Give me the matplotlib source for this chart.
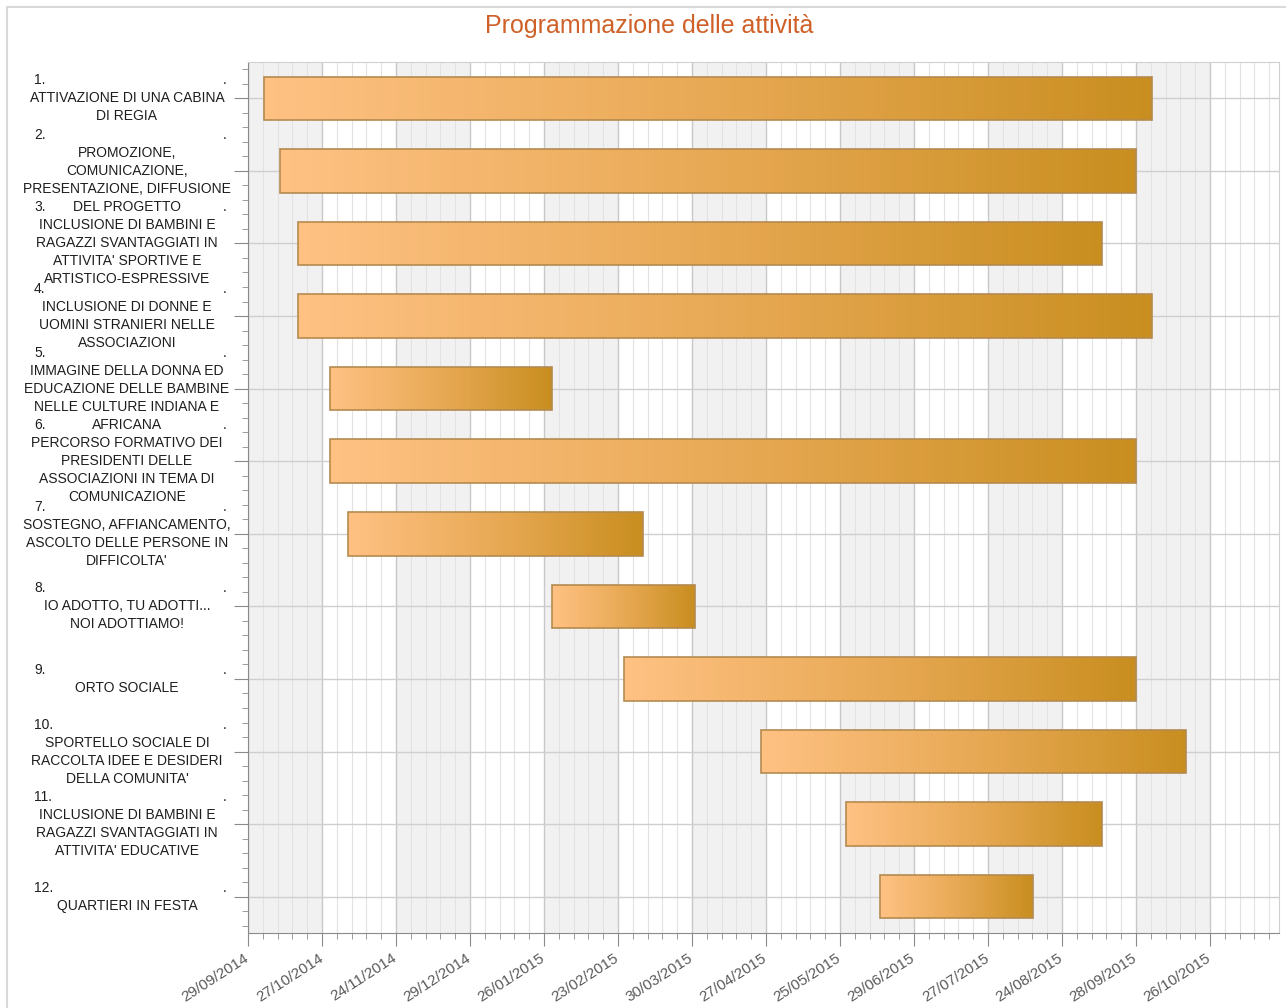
import matplotlib

matplotlib.use("Agg")
import matplotlib.dates as mdates
import matplotlib.pyplot as plt
import matplotlib.transforms as mtransforms
import numpy as np
import pandas as pd
from matplotlib.colors import LinearSegmentedColormap
from matplotlib.patches import Rectangle

plt.rcParams["font.family"] = ["Liberation Sans", "DejaVu Sans"]

title = "Programmazione delle attività"

tick_labels = [
    "29/09/2014", "27/10/2014", "24/11/2014", "29/12/2014", "26/01/2015",
    "23/02/2015", "30/03/2015", "27/04/2015", "25/05/2015", "29/06/2015",
    "27/07/2015", "24/08/2015", "28/09/2015", "26/10/2015",
]
axis_end = "23/11/2015"

task_lines = [
    ["ATTIVAZIONE DI UNA CABINA", "DI REGIA"],
    ["PROMOZIONE,", "COMUNICAZIONE,", "PRESENTAZIONE, DIFFUSIONE", "DEL PROGETTO"],
    ["INCLUSIONE DI BAMBINI E", "RAGAZZI SVANTAGGIATI IN", "ATTIVITA' SPORTIVE E",
     "ARTISTICO-ESPRESSIVE"],
    ["INCLUSIONE DI DONNE E", "UOMINI STRANIERI NELLE", "ASSOCIAZIONI"],
    ["IMMAGINE DELLA DONNA ED", "EDUCAZIONE DELLE BAMBINE", "NELLE CULTURE INDIANA E",
     "AFRICANA"],
    ["PERCORSO FORMATIVO DEI", "PRESIDENTI DELLE", "ASSOCIAZIONI IN TEMA DI",
     "COMUNICAZIONE"],
    ["SOSTEGNO, AFFIANCAMENTO,", "ASCOLTO DELLE PERSONE IN", "DIFFICOLTA'"],
    ["IO ADOTTO, TU ADOTTI...", "NOI ADOTTIAMO!"],
    ["ORTO SOCIALE"],
    ["SPORTELLO SOCIALE DI", "RACCOLTA IDEE E DESIDERI", "DELLA COMUNITA'"],
    ["INCLUSIONE DI BAMBINI E", "RAGAZZI SVANTAGGIATI IN", "ATTIVITA' EDUCATIVE"],
    ["QUARTIERI IN FESTA"],
]

start_dates = [
    "05/10/2014", "11/10/2014", "18/10/2014", "18/10/2014", "30/10/2014", "30/10/2014",
    "06/11/2014", "29/01/2015", "26/02/2015", "25/04/2015", "28/05/2015", "13/06/2015",
]
end_dates = [
    "04/10/2015", "28/09/2015", "12/09/2015", "04/10/2015", "29/01/2015", "28/09/2015",
    "07/03/2015", "31/03/2015", "28/09/2015", "17/10/2015", "12/09/2015", "13/08/2015",
]


def to_num(dates):
    return mdates.date2num(pd.to_datetime(dates, format="%d/%m/%Y"))


tick_x = to_num(tick_labels)
starts = to_num(start_dates)
ends = to_num(end_dates)

# every labelled month gets the same width on the axis (28 or 35 days alike)
months = np.arange(len(tick_x), dtype=float)
xp = np.concatenate([[tick_x[0] - 3000], tick_x, [tick_x[-1] + 3000]])
fp = np.concatenate([[-100.0], months, [months[-1] + 100.0]])


def fwd(x):
    return np.interp(x, xp, fp)


def inv(u):
    return np.interp(u, fp, xp)


fig = plt.figure(figsize=(12.86, 10.08), dpi=100)
ax = fig.add_axes([248 / 1286, 75 / 1008, 1031 / 1286, 871 / 1008])
ax.set_xscale("function", functions=(fwd, inv))
x_right = to_num([axis_end])[0]
ax.set_xlim(tick_x[0], x_right)
ax.set_ylim(len(task_lines) - 0.5, -0.5)

# alternating month bands
for i in range(0, len(tick_x) - 1, 2):
    ax.axvspan(tick_x[i], tick_x[i + 1], color="#f1f1f1", lw=0, zorder=0)

ax.set_xticks(tick_x, tick_labels)
ax.set_xticks(inv(np.round(np.arange(0, fwd(x_right), 0.2), 6)), minor=True)
ax.set_yticks(np.arange(len(task_lines)), [""] * len(task_lines))
ax.set_yticks(np.round(np.arange(-0.4, len(task_lines) - 0.5, 0.2), 6), minor=True)

ax.set_axisbelow(True)
ax.grid(True, which="major", axis="x", color="#c8c8c8", lw=1.0)
ax.grid(True, which="minor", axis="x", color="#e2e2e2", lw=0.8)
ax.grid(True, which="major", axis="y", color="#cfcfcf", lw=1.0)

bar_cmap = LinearSegmentedColormap.from_list("bar", ["#fec182", "#e8a955", "#c98e20"])
for i, (s, e) in enumerate(zip(starts, ends)):
    xs = inv(np.linspace(fwd(s), fwd(e), 81))
    ax.pcolormesh(xs, [i - 0.3, i + 0.3], np.linspace(0, 1, 80)[None, :],
                  cmap=bar_cmap, shading="flat", zorder=3, antialiased=False)
ax.barh(np.arange(len(starts)), ends - starts, left=starts, height=0.6,
        fill=False, edgecolor="#b48a50", lw=1.2, zorder=4)

for side in ["left", "bottom"]:
    ax.spines[side].set_color("#8a8a8a")
for side in ["top", "right"]:
    ax.spines[side].set_color("#d0d0d0")

ax.tick_params(axis="x", which="major", length=9, color="#8a8a8a",
               labelsize=11, labelcolor="#5a5a5a", pad=4)
ax.tick_params(axis="x", which="minor", length=4, color="#8a8a8a")
ax.tick_params(axis="y", which="major", length=10, color="#8a8a8a")
ax.tick_params(axis="y", which="minor", length=4, color="#8a8a8a")
shift = mtransforms.ScaledTranslation(-3 / 72, 0, fig.dpi_scale_trans)
for lab in ax.get_xticklabels():
    lab.set_rotation(33)
    lab.set_ha("right")
    lab.set_rotation_mode("anchor")
    lab.set_transform(lab.get_transform() + shift)

# task labels: number line, then the centred description
line_pt = 18 * 0.72
for i, lines in enumerate(task_lines):
    n = len(lines) + 1
    for k in range(n):
        dy = ((n - 1) / 2 - k) * line_pt
        if k == 0:
            ax.annotate(f"{i + 1}.", xy=(34, i), xycoords=("figure pixels", "data"),
                        xytext=(0, dy), textcoords="offset points",
                        ha="left", va="center", fontsize=10, color="#1e1e1e")
            ax.annotate(".", xy=(223, i), xycoords=("figure pixels", "data"),
                        xytext=(0, dy), textcoords="offset points",
                        ha="left", va="center", fontsize=10, color="#1e1e1e")
        else:
            ax.annotate(lines[k - 1], xy=(127, i), xycoords=("figure pixels", "data"),
                        xytext=(0, dy), textcoords="offset points",
                        ha="center", va="center", fontsize=10, color="#1e1e1e")

fig.text(0.505, 1 - 26 / 1008, title, ha="center", va="center",
         fontsize=18, color="#cf6128")
fig.add_artist(Rectangle((7 / 1286, -0.1), 1.2, 1.1 - 7 / 1008, transform=fig.transFigure,
                         fill=False, edgecolor="#d9d9d9", lw=1.5))

fig.savefig("out.png", dpi=100)
